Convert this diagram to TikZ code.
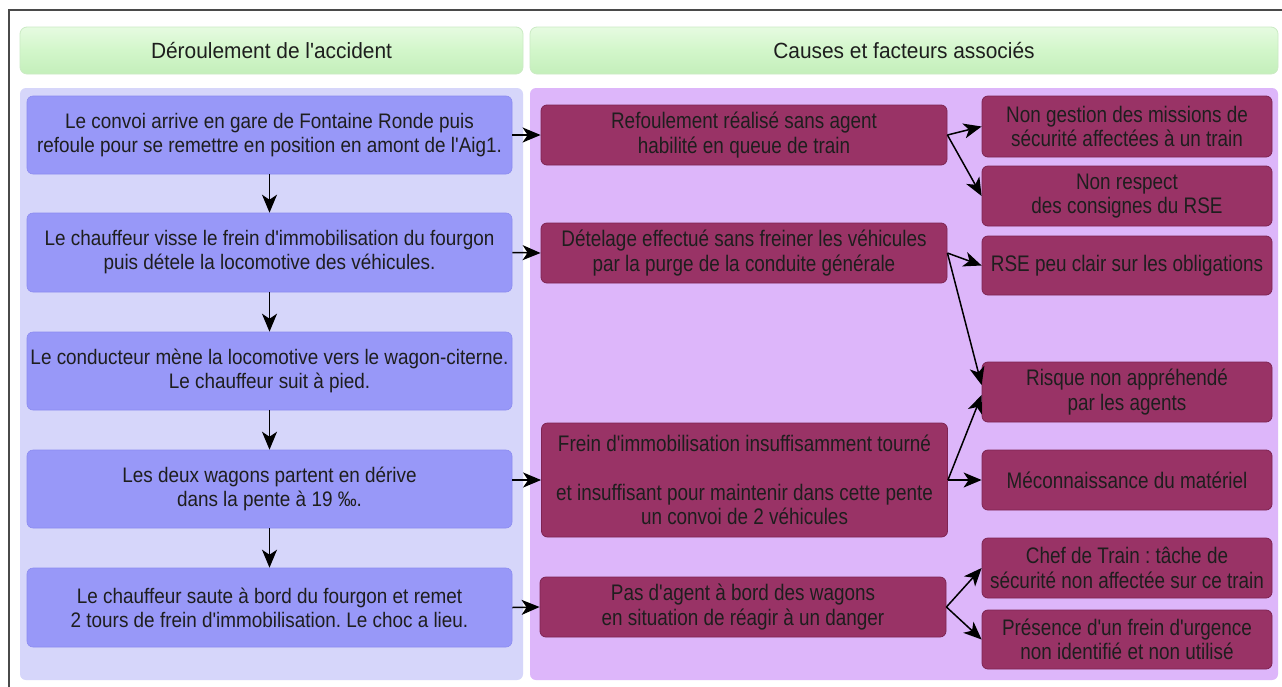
\documentclass[tikz,border=0pt]{standalone}
\usepackage{fontspec}
\setmainfont{Liberation Sans}[Ligatures=TeXOff]
\newfontfamily\evfont{Liberation Sans}[Ligatures=TeXOff, FakeStretch=0.9]
\newfontfamily\causefont{Liberation Sans}[Ligatures=TeXOff, FakeStretch=0.84]
\newfontfamily\hdrfont{Liberation Sans}[Ligatures=TeXOff, FakeStretch=0.95]
\usetikzlibrary{arrows.meta,calc}
\frenchspacing
\definecolor{hdrtop}{HTML}{E6FBE1}
\definecolor{hdrmid}{HTML}{D2F6CA}
\definecolor{hdrbot}{HTML}{C4EFBB}
\definecolor{hdrline}{HTML}{CBEBC4}
\definecolor{panL}{HTML}{D6D6FA}
\definecolor{panR}{HTML}{DDB6FA}
\definecolor{boxL}{HTML}{9898F8}
\definecolor{boxLline}{HTML}{8C8CF0}
\definecolor{boxM}{HTML}{993366}
\definecolor{boxMline}{HTML}{7E2452}
\definecolor{txt}{HTML}{1E1E1E}
\definecolor{frame}{HTML}{4A4A4A}
\tikzset{
  basefont/.style={text=txt, align=center, inner sep=0pt},
  header/.style={basefont, font=\hdrfont\frenchspacing\fontsize{22}{26}\selectfont, rounded corners=7pt,
    draw=hdrline, line width=0.8pt, top color=hdrtop, bottom color=hdrbot, middle color=hdrmid},
  panelL/.style={fill=panL, rounded corners=6pt, draw=none},
  panelR/.style={fill=panR, rounded corners=6pt, draw=none},
  evbox/.style={basefont, font=\evfont\frenchspacing\fontsize{21}{24}\selectfont, fill=boxL, draw=boxLline,
    line width=0.6pt, rounded corners=6pt, minimum width=485pt},
  causebox/.style={basefont, font=\causefont\frenchspacing\fontsize{22.5}{24.5}\selectfont, fill=boxM,
    draw=boxMline, line width=0.8pt, rounded corners=6pt},
  midbox/.style={causebox, minimum width=406pt, minimum height=60pt},
  factbox/.style={causebox, minimum width=290pt, minimum height=60pt},
  conn/.style={line width=1.5pt, black, -{Stealth[length=18pt,width=15pt,inset=5pt]}}
}
\begin{document}
\begin{tikzpicture}[x=1pt,y=-1pt]
\useasboundingbox (0,0) rectangle (1282,686);
\fill[white] (0,0) rectangle (1282,686);
% outer frame
\draw[frame, line width=2pt] (9,10) rectangle (1300,700);

% headers
\node[header, minimum width=503pt, minimum height=47pt] (HL) at (271.5,50.5) {Déroulement de l'accident};
\node[header, minimum width=748pt, minimum height=47pt] (HR) at (904,50.5) {Causes et facteurs associés};

% panels
\node[panelL, minimum width=503pt, minimum height=592pt] (PL) at (271.5,384) {};
\node[panelR, minimum width=748pt, minimum height=592pt] (PR) at (904,384) {};

% left column: sequence of events
\node[evbox, minimum height=78pt] (L1) at (269.5,135) {Le convoi arrive en gare de Fontaine Ronde puis\\refoule pour se remettre en position en amont de l'Aig1.};
\node[evbox, minimum height=79pt] (L2) at (269.5,252.5) {Le chauffeur visse le frein d'immobilisation du fourgon\\puis détele la locomotive des véhicules.};
\node[evbox, minimum height=78pt] (L3) at (269.5,371) {Le conducteur mène la locomotive vers le wagon-citerne.\\Le chauffeur suit à pied.};
\node[evbox, minimum height=78pt] (L4) at (269.5,489) {Les deux wagons partent en dérive\\dans la pente à 19 ‰.};
\node[evbox, minimum height=79pt] (L5) at (269.5,607.5) {Le chauffeur saute à bord du fourgon et remet\\2 tours de frein d'immobilisation. Le choc a lieu.};

% middle column: causes
\node[midbox] (M1) at (744,135) {Refoulement réalisé sans agent\\habilité en queue de train};
\node[midbox] (M2) at (744,253) {Dételage effectué sans freiner les véhicules\\par la purge de la conduite générale};
\node[midbox, minimum height=114pt] (M3) at (744.5,480) {Frein d'immobilisation insuffisamment tourné\\[24pt]et insuffisant pour maintenir dans cette pente\\un convoi de 2 véhicules};
\node[midbox] (M4) at (743,607) {Pas d'agent à bord des wagons\\en situation de réagir à un danger};

% right column: factors
\node[factbox, minimum height=61pt] (R1) at (1127,126.5) {Non gestion des missions de\\sécurité affectées à un train};
\node[factbox] (R2) at (1127,196) {Non respect\\des consignes du RSE};
\node[factbox, minimum height=59pt] (R3) at (1127,265.5) {RSE peu clair sur les obligations};
\node[factbox] (R4) at (1127,392) {Risque non appréhendé\\par les agents};
\node[factbox] (R5) at (1127,480) {Méconnaissance du matériel};
\node[factbox] (R6) at (1127,568) {Chef de Train : tâche de\\sécurité non affectée sur ce train};
\node[factbox, minimum height=59pt] (R7) at (1127,639.5) {Présence d'un frein d'urgence\\non identifié et non utilisé};

% vertical sequence arrows
\draw[conn] (L1.south) -- (L2.north);
\draw[conn] (L2.south) -- (L3.north);
\draw[conn] (L3.south) -- (L4.north);
\draw[conn] (L4.south) -- (L5.north);

% events to causes
\draw[conn] (L1.east) -- (M1.west);
\draw[conn] (L2.east) -- (M2.west);
\draw[conn] (L4.east |- M3.west) -- (M3.west);
\draw[conn] (L5.east) -- (M4.west);

% causes to factors
\draw[conn] (M1.east) -- (R1.west);
\draw[conn] (M1.east) -- (R2.west);
\draw[conn] (M2.east) -- (R3.west);
\draw[conn] (M2.east) -- ($(R4.west)+(0,-7)$);
\draw[conn] (M3.east) -- ($(R4.west)+(0,3)$);
\draw[conn] (M3.east) -- (R5.west);
\draw[conn] (M4.east) -- (R6.west);
\draw[conn] (M4.east) -- (R7.west);
\end{tikzpicture}
\end{document}
